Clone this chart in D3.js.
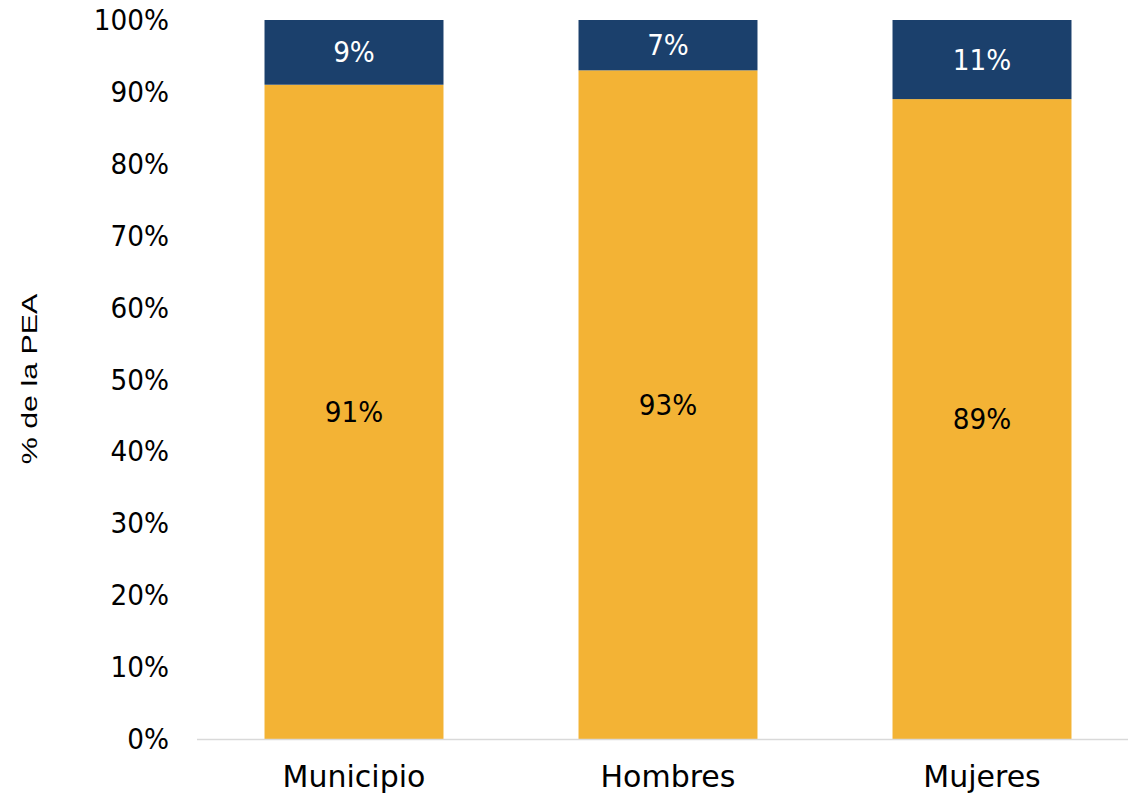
<!DOCTYPE html>
<html><head><meta charset="utf-8">
<script src="https://cdn.jsdelivr.net/npm/d3@7"></script>
<style>body{margin:0;background:#fff}</style>
</head><body>
<svg id="c" width="1128" height="793"></svg>
<script>
const categories = ["Municipio", "Hombres", "Mujeres"];
const seriesBottom = [91, 93, 89];
const seriesTop = [9, 7, 11];
const yTicks = [0,10,20,30,40,50,60,70,80,90,100];
const colors = {bottom:"#F3B335", top:"#1B406C"};

const svg = d3.select("#c");
const x = d3.scaleBand().domain(categories).range([197, 1139]).paddingInner(0.43).paddingOuter(0.215);
const y = d3.scaleLinear().domain([0,100]).range([739, 20]);
const font = "'DejaVu Sans', sans-serif";
const numSize = 28, numScale = 0.94;

function numText(sel, anchor) {
  return sel.attr("text-anchor", anchor).attr("dy", "0.36em")
    .attr("font-family", font).attr("font-size", numSize);
}

// y tick labels
numText(svg.append("g").selectAll("text").data(yTicks).join("text")
  .attr("transform", d => `translate(169,${y(d)}) scale(${numScale},1)`), "end")
  .attr("fill", "#000").text(d => d + "%");

// bars
const rows = categories.map((c,i) => ({c, b: seriesBottom[i], t: seriesTop[i]}));
const g = svg.append("g");
g.selectAll("rect.b").data(rows).join("rect").attr("class","b")
  .attr("x", d => x(d.c)).attr("width", x.bandwidth())
  .attr("y", d => y(d.b)).attr("height", d => y(0) - y(d.b)).attr("fill", colors.bottom);
g.selectAll("rect.t").data(rows).join("rect").attr("class","t")
  .attr("x", d => x(d.c)).attr("width", x.bandwidth())
  .attr("y", d => y(d.b + d.t)).attr("height", d => y(d.b) - y(d.b + d.t)).attr("fill", colors.top);

// labels
numText(g.selectAll("text.b").data(rows).join("text").attr("class","b")
  .attr("transform", d => `translate(${x(d.c) + x.bandwidth()/2},${y(d.b/2)}) scale(${numScale},1)`), "middle")
  .attr("fill","#000").text(d => d.b + "%");
numText(g.selectAll("text.t").data(rows).join("text").attr("class","t")
  .attr("transform", d => `translate(${x(d.c) + x.bandwidth()/2},${y(d.b + d.t/2)}) scale(${numScale},1)`), "middle")
  .attr("fill","#fff").text(d => d.t + "%");

// x axis line
svg.append("line").attr("x1",197).attr("x2",1128).attr("y1",739.5).attr("y2",739.5)
  .attr("stroke","#d9d9d9").attr("stroke-width",1.5);

// x labels
svg.append("g").selectAll("text").data(categories).join("text")
  .attr("x", d => x(d) + x.bandwidth()/2).attr("y", 787)
  .attr("text-anchor","middle").attr("font-family", font).attr("font-size", 30).attr("fill","#000")
  .text(d => d);

// y title
svg.append("text").attr("transform","translate(37,379) rotate(-90) scale(1.38,1)")
  .attr("text-anchor","middle").attr("font-family","'Liberation Sans', Arial, sans-serif")
  .attr("font-size", 22).attr("fill","#000").text("% de la PEA");
</script>
</body></html>
